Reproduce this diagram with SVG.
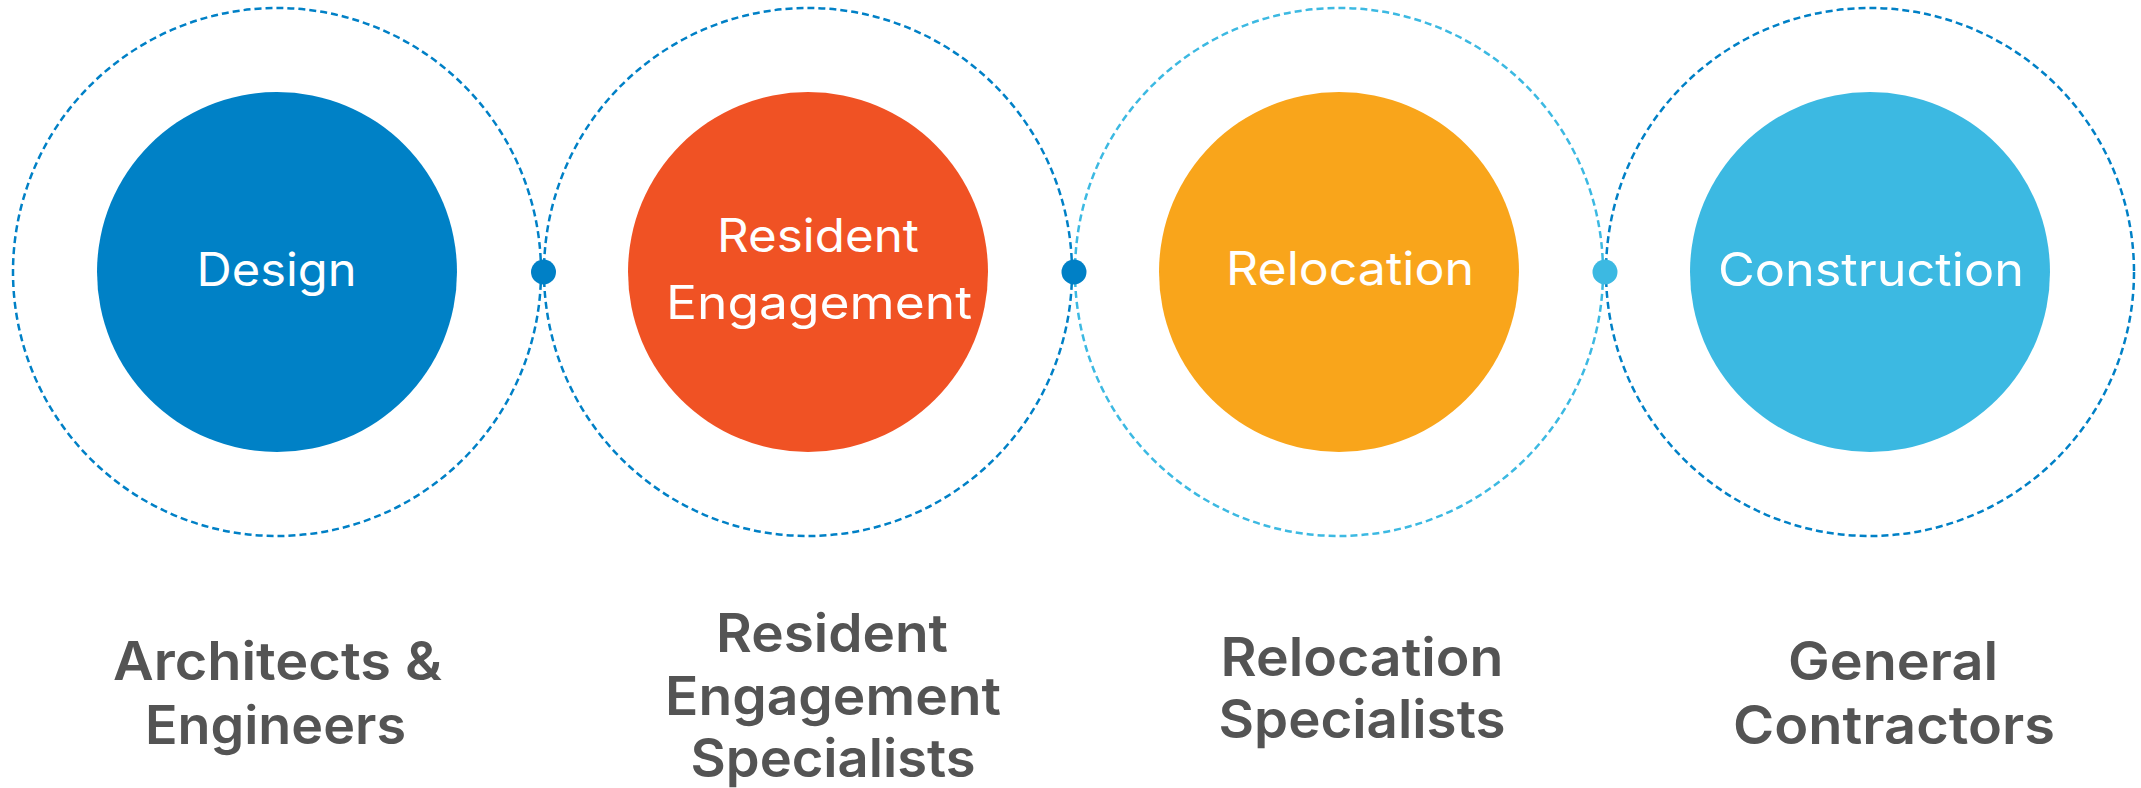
<svg xmlns="http://www.w3.org/2000/svg" width="2141" height="788" viewBox="0 0 2141 788">
<style>
.ring{fill:none;stroke-width:2.5;stroke-dasharray:7 4}
.dk{stroke:#0080C6}
.lt{stroke:#3CB9E2}
.in{font-family:Inter,"Noto Sans","Liberation Sans",sans-serif;font-size:46px;font-weight:400;fill:#FFFFFF;text-anchor:middle}
.lb{font-family:Inter,"Noto Sans","Liberation Sans",sans-serif;font-size:53px;font-weight:600;fill:#545454;text-anchor:middle}
</style>
<rect width="2141" height="788" fill="#FFFFFF"/>
<g id="node-design">
<circle class="ring dk" cx="277" cy="272" r="264"/>
<circle cx="277" cy="272" r="180" fill="#0081C6"/>
<text class="in" x="276.5" y="286" textLength="160" lengthAdjust="spacingAndGlyphs">Design</text>
<text class="lb" x="277.5" y="680" textLength="329" lengthAdjust="spacingAndGlyphs">Architects &amp;</text>
<text class="lb" x="275.5" y="744" textLength="261" lengthAdjust="spacingAndGlyphs">Engineers</text>
</g>
<g id="node-engagement">
<circle class="ring dk" cx="808" cy="272" r="264"/>
<circle cx="808" cy="272" r="180" fill="#F05224"/>
<text class="in" x="818" y="251.5" textLength="202" lengthAdjust="spacingAndGlyphs">Resident</text>
<text class="in" x="819" y="319" textLength="306" lengthAdjust="spacingAndGlyphs">Engagement</text>
<text class="lb" x="832" y="651.5" textLength="232" lengthAdjust="spacingAndGlyphs">Resident</text>
<text class="lb" x="833" y="715" textLength="336" lengthAdjust="spacingAndGlyphs">Engagement</text>
<text class="lb" x="833" y="777" textLength="285" lengthAdjust="spacingAndGlyphs">Specialists</text>
</g>
<g id="node-relocation">
<circle class="ring lt" cx="1339" cy="272" r="264"/>
<circle cx="1339" cy="272" r="180" fill="#F9A51B"/>
<text class="in" x="1350" y="284.5" textLength="248" lengthAdjust="spacingAndGlyphs">Relocation</text>
<text class="lb" x="1362" y="676" textLength="283" lengthAdjust="spacingAndGlyphs">Relocation</text>
<text class="lb" x="1362" y="738" textLength="287" lengthAdjust="spacingAndGlyphs">Specialists</text>
</g>
<g id="node-construction">
<circle class="ring dk" cx="1870" cy="272" r="264"/>
<circle cx="1870" cy="272" r="180" fill="#3CB9E2"/>
<text class="in" x="1871" y="285.5" textLength="306" lengthAdjust="spacingAndGlyphs">Construction</text>
<text class="lb" x="1893" y="680" textLength="210" lengthAdjust="spacingAndGlyphs">General</text>
<text class="lb" x="1894" y="743.5" textLength="322" lengthAdjust="spacingAndGlyphs">Contractors</text>
</g>
<g id="connectors">
<circle cx="543.5" cy="272" r="12.5" fill="#0080C6"/>
<circle cx="1074" cy="272" r="12.5" fill="#0080C6"/>
<circle cx="1605" cy="272" r="12.5" fill="#3CB9E2"/>
</g>
</svg>
